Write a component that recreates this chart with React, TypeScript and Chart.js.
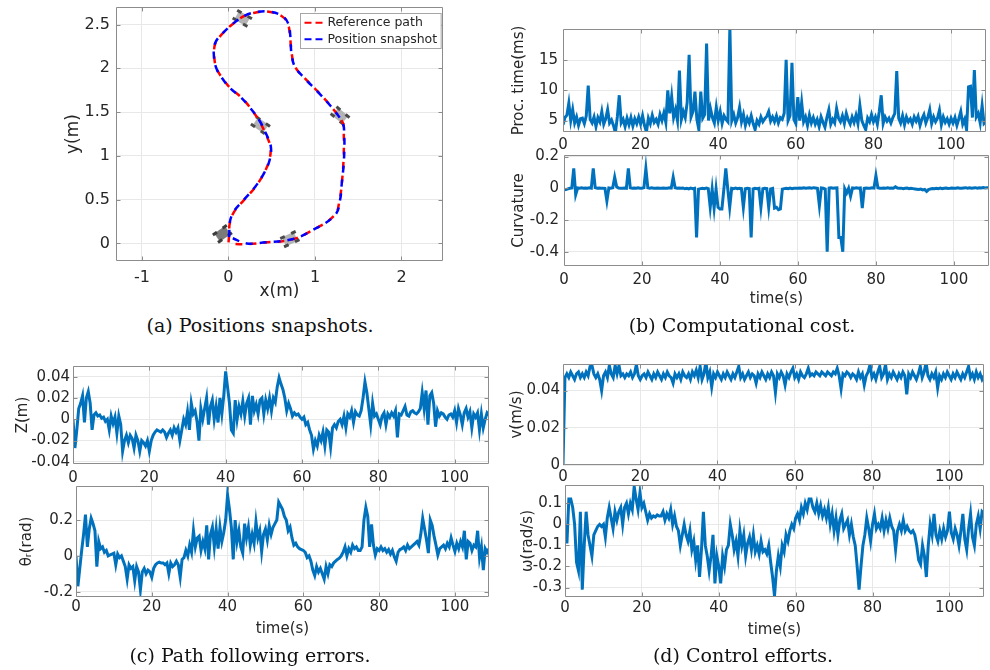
import React, { useEffect, useRef } from "react";
import { Chart, registerables } from "chart.js";

Chart.register(...registerables);

// ---------------- data ----------------
const SAMPLE_STEP_S = 0.5;
const TIME_MIN = 0;
const TIME_MAX = 109;
const TIME_TICKS = [0, 20, 40, 60, 80, 100];

// (a) path in metres
const REF_X = [0, 0.198, 0.427, 0.731, 0.96, 1.227, 1.284, 1.31, 1.33, 1.333, 1.322, 1.189, 1.036, 0.884, 0.77, 0.731, 0.712, 0.686, 0.617, 0.465, 0.331, 0.179, 0.046, -0.069, -0.152, -0.164, -0.137, -0.069, 0.027, 0.141, 0.244, 0.35, 0.427, 0.484, 0.472, 0.408, 0.312, 0.179, 0.065, 0.015, 0.008, 0];
const REF_Y = [0, -0.008, 0.011, 0.046, 0.145, 0.323, 0.495, 0.685, 0.951, 1.256, 1.377, 1.56, 1.731, 1.884, 2.017, 2.169, 2.359, 2.511, 2.595, 2.645, 2.641, 2.595, 2.504, 2.397, 2.283, 2.131, 1.998, 1.884, 1.769, 1.674, 1.56, 1.408, 1.256, 1.103, 0.951, 0.799, 0.647, 0.495, 0.361, 0.228, 0.114, 0];
const POS_X = [0.05, 0.21, 0.43, 0.735, 0.965, 1.232, 1.29, 1.31, 1.335, 1.338, 1.318, 1.186, 1.03, 0.88, 0.768, 0.728, 0.716, 0.69, 0.62, 0.47, 0.335, 0.182, 0.05, -0.066, -0.155, -0.168, -0.14, -0.073, 0.022, 0.137, 0.24, 0.354, 0.432, 0.49, 0.476, 0.41, 0.31, 0.176, 0.061, 0.012, 0.01, 0.0];
const POS_Y = [0.06, 0.0, 0.013, 0.048, 0.148, 0.325, 0.497, 0.687, 0.953, 1.258, 1.38, 1.563, 1.734, 1.886, 2.019, 2.171, 2.361, 2.513, 2.598, 2.648, 2.644, 2.598, 2.507, 2.4, 2.286, 2.134, 2.0, 1.886, 1.771, 1.676, 1.562, 1.41, 1.258, 1.105, 0.953, 0.801, 0.649, 0.497, 0.363, 0.23, 0.116, 0.02];
const ROBOT_X = [-0.07, 0.71, 1.29, 0.37, 0.16];
const ROBOT_Y = [0.11, 0.05, 1.46, 1.35, 2.57];
const ROBOT_HEADING_DEG = [-35, -25, 40, 35, 30];
const POS_X_TICKS = [-1, 0, 1, 2];
const POS_Y_TICKS = [0, 0.5, 1, 1.5, 2, 2.5];

// (b) processing time (ms), every 0.5 s
const PROC_TIME_MS = [
  4.3, 5.5, 5.9, 7.9, 5.0, 6.8, 4.6, 5.6, 4.2, 5.3,
  5.4, 4.5, 5.8, 10.8, 5.2, 4.6, 5.6, 4.0, 5.5, 4.8,
  6.5, 4.4, 5.3, 6.8, 4.6, 5.1, 4.2, 3.0, 5.6, 9.2,
  4.6, 5.2, 4.0, 5.4, 4.3, 5.5, 4.1, 5.3, 4.5, 5.6,
  4.4, 5.8, 4.2, 3.1, 5.4, 4.5, 5.9, 4.7, 5.2, 4.4,
  6.0, 5.0, 6.3, 4.7, 10.0, 6.2, 9.0, 5.5, 6.8, 5.0,
  13.3, 5.2, 6.5, 5.5, 8.0, 15.9, 5.6, 6.5, 9.8, 5.2,
  3.5, 9.8, 5.4, 6.0, 17.8, 5.0, 7.0, 5.5, 4.6, 7.2,
  5.0, 6.5, 4.5, 5.8, 5.2, 4.8, 20.5, 5.0, 6.0, 4.6,
  5.5, 7.2, 4.8, 6.0, 4.2, 5.4, 4.6, 5.8, 4.5, 3.5,
  5.0, 4.4, 5.6, 4.8, 5.3, 5.7, 6.5, 4.9, 5.6, 4.8,
  5.8, 4.6, 5.5, 5.2, 6.2, 15.1, 5.0, 5.8, 14.6, 5.2,
  4.5, 8.9, 5.0, 8.0, 4.8, 5.6, 4.2, 5.9, 4.6, 5.5,
  4.4, 5.2, 4.0, 5.6, 4.7, 3.9, 5.5, 6.8, 4.4, 5.2,
  4.6, 7.0, 5.4, 4.8, 5.8, 4.5, 6.2, 5.1, 4.4, 5.6,
  4.7, 5.9, 4.5, 7.5, 5.0, 4.2, 3.5, 5.4, 4.8, 6.0,
  4.8, 5.6, 4.4, 6.5, 9.2, 4.5, 5.6, 4.9, 5.4, 4.6,
  5.5, 6.2, 13.2, 5.4, 4.6, 5.8, 4.3, 5.6, 4.8, 5.3,
  4.4, 5.6, 4.9, 5.7, 4.2, 5.3, 6.0, 4.6, 5.5, 6.8,
  4.5, 5.6, 4.8, 5.4, 6.7, 4.3, 5.6, 4.7, 5.3, 4.4,
  5.4, 4.6, 5.5, 4.2, 5.3, 6.5, 4.4, 5.2, 3.5, 10.6,
  10.7, 5.5, 13.4, 5.6, 6.2, 4.6, 7.5, 4.5, 4.8,
];
const PROC_TICKS = [5, 10, 15];

const CURVATURE = [
  -0.01, -0.008, -0.004, 0, 0.002, 0.125, -0.04, 0.002, 0, 0.003,
  0, 0.002, 0, 0.003, 0.001, 0.125, 0.004, 0, 0.002, 0,
  0.001, 0, -0.08, 0.002, 0, 0.003, 0.07, 0.01, 0.002, 0,
  0.001, 0.002, 0, 0.125, 0.003, 0, 0.002, 0, 0.003, 0.001,
  0, 0.004, 0.125, 0.003, 0, 0.003, 0.001, 0, 0.002, 0.001,
  0, 0.002, 0.001, 0, 0.003, 0.001, 0.07, 0.003, 0, 0.002,
  0, 0.002, -0.003, 0, -0.004, 0.001, -0.002, 0, -0.31, -0.005,
  -0.002, 0, -0.003, 0.001, -0.002, -0.12, -0.005, -0.125, -0.004, -0.12,
  -0.13, -0.13, -0.005, 0.125, -0.003, -0.12, 0, -0.002, 0.001, -0.003,
  0, -0.002, -0.12, -0.003, 0, -0.002, -0.31, -0.004, 0, -0.002,
  0, -0.12, -0.003, 0, -0.002, -0.12, -0.004, -0.001, -0.125, -0.12,
  -0.135, -0.13, -0.005, -0.002, 0, -0.003, 0.001, -0.002, 0, 0.001,
  0, 0.002, 0, 0.003, 0.001, 0.002, 0.003, 0.001, 0.004, 0.002,
  0, -0.11, 0.002, 0, -0.005, -0.4, 0.001, 0.003, 0, 0.002,
  0.003, -0.31, -0.31, -0.4, -0.003, -0.03, 0, -0.05, 0.002, 0,
  0.003, 0, 0.002, -0.125, 0, 0.002, 0.001, 0, 0.003, 0.001,
  0.08, 0.004, 0.001, 0, 0.002, 0.001, 0.003, 0, 0.002, 0.001,
  0.01, 0.002, 0, 0.001, -0.002, 0, 0.001, -0.003, 0, -0.002,
  -0.004, -0.006, -0.008, -0.005, -0.01, -0.007, -0.02, -0.008, -0.004, -0.002,
  -0.003, 0, -0.002, 0.001, -0.003, 0, 0.002, -0.001, 0, 0.002,
  0.001, 0, 0.003, 0.001, 0, 0.002, 0.004, 0.001, 0.003, 0,
  0.002, 0.004, 0.001, 0.003, 0.002, 0.005, 0.002, 0.004, 0.003,
];
const CURV_TICKS = [-0.4, -0.2, 0, 0.2];

// (c) path following errors
const Z_ERROR_M = [
  0, -0.027, -0.01, 0.01, 0.015, 0.022, -0.003, 0.02, 0.026, 0.015,
  -0.01, 0.004, 0.006, 0.003, 0.004, 0.001, 0.002, -0.002, 0.0, -0.01,
  0.003, -0.004, 0.002, -0.013, 0.003, -0.005, -0.03, -0.02, -0.015, -0.022,
  -0.015, -0.018, -0.027, -0.015, -0.02, -0.03, -0.02, -0.022, -0.025, -0.02,
  -0.03, -0.02, -0.015, -0.012, -0.01, -0.011, -0.012, -0.01, -0.012, -0.017,
  -0.013, -0.01, -0.015, -0.008, -0.012, -0.008, -0.02, -0.01, 0, -0.005,
  0.007, -0.01, 0.015, 0.005, 0.008, -0.002, -0.02, 0.01, 0.0, 0.01,
  0.02, -0.005, 0.012, 0.018, 0.0, 0.012, -0.003, 0.02, 0.005, 0.022,
  0.045, 0.03, 0.015, -0.01, -0.013, 0.018, 0.0, 0.012, 0.005, 0.017,
  0.003, 0.015, 0.02, -0.005, 0.022, 0.008, 0.014, 0.005, 0.018, 0.02,
  0.005, 0.018, 0.01, 0.02, 0.008, 0.02, 0.016, 0.03, 0.039, 0.033,
  0.028, 0.02, 0.008, 0.015, 0.01, 0.003, 0.006, 0.004, 0.005, 0.002,
  0.0, 0.002, -0.005, -0.003, -0.01, -0.015, -0.028, -0.02, -0.025, -0.015,
  -0.02, -0.012, -0.025, -0.01, -0.012, -0.026, -0.008, -0.005, -0.008, -0.002,
  0.0, -0.005, 0.003, -0.008, 0.005, 0.002, 0.008, -0.003, 0.007, 0.004,
  0.003, 0.008, 0.02, 0.035, 0.025, 0.01, -0.005, 0.015, 0.003, 0.005,
  0.0, -0.005, 0.003, 0.006, -0.005, 0.005, 0.002, 0.006, 0.003, 0.008,
  -0.017, 0.005, 0.004, 0.008, 0.012, 0.004, 0.003, 0.007, 0.008, 0.006,
  0.005, 0.007, 0.01, 0.025, 0.01, 0.027, -0.005, 0.022, 0.025, 0.015,
  -0.007, 0.008, 0.003, 0.006, 0.005, 0.002, 0.0, 0.004, 0.005, 0.002,
  0.008, -0.003, 0.01, 0.004, -0.005, 0.006, 0.01, 0.002, 0.007, -0.008,
  0.005, 0.002, 0.006, -0.01, 0.005, -0.008, 0.0, 0.006, 0.004,
];
const Z_TICKS = [-0.04, -0.02, 0, 0.02, 0.04];

const THETA_ERROR_RAD = [
  0, -0.17, -0.07, 0.03, 0.12, 0.23, 0.05, 0.15, 0.21, 0.18,
  0.14, -0.06, 0.08, 0.04, 0.05, 0.02, 0.03, 0.0, 0.005, 0.01,
  0.015, -0.05, 0.01, -0.01, 0.0, -0.03, -0.06, -0.13, -0.05, -0.07,
  -0.06, -0.14, -0.06, -0.09, -0.19, -0.09, -0.07, -0.1, -0.08, -0.09,
  -0.12, -0.07, -0.05, -0.04, -0.035, -0.04, -0.04, -0.05, -0.04, -0.1,
  -0.04, -0.06, -0.05, -0.03, -0.05, -0.12, -0.02, -0.01, 0.03, 0.0,
  0.06, 0.02, 0.14, 0.05, 0.1, 0.11, 0.03, 0.08, 0.04, 0.17,
  -0.02, 0.12, 0.16, 0.05, 0.15, 0.04, 0.16, 0.08, 0.13, 0.2,
  0.34, 0.26, 0.16, -0.02, 0.2, 0.08, 0.14, 0.05, 0.015, 0.18,
  0.1, 0.16, 0.06, 0.12, 0.07, 0.19, 0.1, 0.14, 0.025, 0.12,
  0.15, 0.09, 0.17, 0.12, 0.16, 0.18, 0.2, 0.3, 0.28, 0.26,
  0.22, 0.2, 0.14, 0.16, 0.1, 0.06, 0.07, 0.05, 0.04, 0.035,
  0.03, 0.02, -0.01, 0.0, -0.03, -0.08, -0.11, -0.06, -0.09, -0.07,
  -0.1, -0.13, -0.06, -0.1, -0.05, -0.06, -0.04, -0.03, -0.02, -0.013,
  0.0, 0.02, 0.05, 0.0, 0.04, 0.02, 0.06, 0.04, 0.05, 0.03,
  0.03, 0.05, 0.2, 0.27, 0.22, 0.05, 0.175, 0.06, 0.005, 0.04,
  0.03, 0.05, 0.03, 0.04, 0.02, 0.035, 0.01, 0.03, -0.005, -0.03,
  0.02, 0.035, 0.04, 0.05, 0.03, 0.06, 0.04, 0.05, 0.06, 0.07,
  0.08, 0.06, 0.12, 0.21, 0.15, 0.09, 0.015, 0.2, 0.17, 0.11,
  0.06, 0.005, 0.04, 0.05, 0.06, 0.04, 0.07, 0.05, 0.1, 0.06,
  0.025, 0.07, 0.04, 0.08, 0.05, 0.14, -0.02, 0.08, 0.07, 0.03,
  0.06, 0.05, 0.14, -0.01, 0.05, -0.08, 0.04, 0.02, 0.04,
];
const THETA_TICKS = [-0.2, 0, 0.2];

// (d) control efforts
const V_MPS = [
  0, 0.047, 0.049, 0.047, 0.05, 0.048, 0.046, 0.049, 0.05, 0.047,
  0.049, 0.047, 0.05, 0.048, 0.053, 0.0535, 0.049, 0.047, 0.049, 0.046,
  0.04, 0.048, 0.05, 0.047, 0.0535, 0.049, 0.047, 0.0535, 0.049, 0.0535,
  0.048, 0.049, 0.047, 0.049, 0.048, 0.05, 0.047, 0.049, 0.054, 0.048,
  0.046, 0.048, 0.049, 0.047, 0.05, 0.048, 0.046, 0.049, 0.047, 0.05,
  0.048, 0.046, 0.049, 0.047, 0.05, 0.048, 0.047, 0.044, 0.049, 0.047,
  0.049, 0.046, 0.05, 0.048, 0.047, 0.049, 0.046, 0.05, 0.048, 0.051,
  0.047, 0.053, 0.046, 0.049, 0.0555, 0.047, 0.05, 0.042, 0.049, 0.047,
  0.05, 0.048, 0.046, 0.049, 0.047, 0.05, 0.048, 0.046, 0.049, 0.047,
  0.05, 0.053, 0.047, 0.049, 0.046, 0.048, 0.05, 0.047, 0.049, 0.048,
  0.044, 0.049, 0.047, 0.05, 0.048, 0.046, 0.049, 0.047, 0.05, 0.048,
  0.039, 0.049, 0.047, 0.05, 0.048, 0.043, 0.049, 0.047, 0.05, 0.052,
  0.047, 0.049, 0.046, 0.05, 0.048, 0.047, 0.049, 0.052, 0.048, 0.049,
  0.048, 0.05, 0.049, 0.048, 0.05, 0.049, 0.048, 0.05, 0.049, 0.048,
  0.05, 0.049, 0.052, 0.048, 0.041, 0.049, 0.048, 0.05, 0.049, 0.047,
  0.049, 0.048, 0.046, 0.05, 0.047, 0.049, 0.043, 0.048, 0.05, 0.054,
  0.047, 0.049, 0.046, 0.05, 0.053, 0.047, 0.049, 0.054, 0.046, 0.049,
  0.047, 0.05, 0.048, 0.046, 0.049, 0.047, 0.05, 0.048, 0.038, 0.049,
  0.047, 0.05, 0.048, 0.046, 0.049, 0.053, 0.047, 0.05, 0.055, 0.048,
  0.046, 0.049, 0.047, 0.05, 0.0415, 0.048, 0.046, 0.049, 0.047, 0.05,
  0.048, 0.046, 0.049, 0.047, 0.05, 0.048, 0.046, 0.049, 0.047, 0.05,
  0.053, 0.047, 0.049, 0.046, 0.05, 0.047, 0.049, 0.046, 0.048,
];
const V_TICKS = [0, 0.02, 0.04];

const OMEGA_RADPS = [
  0, -0.09, 0.12, 0.12, 0.08, 0.0, -0.18, -0.22, 0.06, -0.31,
  -0.1, 0.06, -0.05, -0.1, -0.15, -0.05, -0.03, -0.01, 0.0, -0.01,
  0.0, -0.06, 0.03, 0.08, 0.03, -0.02, 0.06, 0.02, 0.06, 0.08,
  0.0, 0.08, 0.1, 0.05, 0.1, 0.07, 0.18, 0.12, 0.07, 0.15,
  0.08, 0.1, 0.06, 0.02, 0.05, 0.03, 0.04, 0.035, 0.045, 0.04,
  0.04, 0.06, 0.02, 0.05, 0.03, 0.07, 0.0, 0.04, -0.01, -0.03,
  -0.1, -0.05, 0.0, -0.05, -0.08, -0.03, -0.12, -0.08, -0.17, -0.1,
  -0.25, -0.12, 0.06, -0.1, -0.15, -0.22, -0.15, -0.05, -0.28, -0.15,
  -0.2, -0.28, -0.15, -0.2, -0.12, -0.1, 0.0, -0.05, -0.12, -0.08,
  -0.15, -0.03, -0.1, -0.05, -0.15, -0.09, -0.06, -0.12, -0.05, -0.13,
  -0.1, -0.14, -0.08, -0.13, -0.12, -0.14, -0.1, -0.18, -0.25, -0.34,
  -0.22, -0.15, -0.2, -0.1, -0.13, -0.05, -0.08, -0.03, 0.0, -0.02,
  0.03, 0.05, 0.02, 0.08, 0.05, 0.1, 0.07, 0.12, 0.12, 0.08,
  0.06, 0.1, 0.05, 0.09, 0.04, 0.07, 0.03, 0.08, 0.0, 0.05,
  -0.03, 0.03, -0.05, 0.02, 0.05, -0.02, 0.0, 0.02, -0.05, 0.0,
  -0.06, -0.1, -0.2, -0.31, -0.2, -0.1, -0.05, 0.03, -0.02, -0.08,
  0.0, 0.05, -0.02, 0.0, -0.02, 0.03, -0.03, 0.02, -0.02, 0.03,
  -0.01, -0.03, -0.12, -0.03, 0.0, -0.03, 0.02, -0.03, -0.01, -0.03,
  -0.04, -0.03, -0.05, -0.1, -0.17, -0.19, -0.1, -0.15, -0.25, -0.1,
  0.0, -0.05, 0.05, -0.05, -0.08, -0.03, -0.07, -0.02, -0.06, -0.03,
  0.06, -0.04, -0.07, -0.02, -0.05, -0.1, -0.03, 0.05, -0.07, -0.12,
  -0.02, 0.05, -0.06, -0.1, 0.0, 0.04, -0.02, 0.06, 0.05,
];
const OMEGA_TICKS = [-0.3, -0.2, -0.1, 0, 0.1];

const CAPTIONS = [
  { text: "(a) Positions snapshots.", cx: 260, baseline: 332 },
  { text: "(b) Computational cost.", cx: 742, baseline: 332 },
  { text: "(c) Path following errors.", cx: 250, baseline: 662 },
  { text: "(d) Control efforts.", cx: 743, baseline: 662 },
];

// ---------------- styling ----------------
const SANS = "'DejaVu Sans', sans-serif";
const SERIF = "'DejaVu Serif', serif";
const TEXT = "#262626";
const GRID = "#e8e8e8";
const BOX = "#8c8c8c";
const BLUE = "#0072BD";
const SERIES_WIDTH = 3;

const toSeries = (values: number[]) => values.map((y, i) => ({ x: i * SAMPLE_STEP_S, y }));

const boxPlugin = {
  id: "matlabBox",
  afterDraw(chart: any) {
    const { ctx, chartArea: a, scales } = chart;
    const l = Math.round(a.left) + 0.5, r = Math.round(a.right) - 0.5;
    const t = Math.round(a.top) + 0.5, b = Math.round(a.bottom) - 0.5;
    const tl = 4;
    ctx.save();
    ctx.strokeStyle = BOX;
    ctx.lineWidth = 1;
    ctx.setLineDash([]);
    ctx.beginPath();
    ctx.rect(l, t, r - l, b - t);
    const xs = scales.x, ys = scales.y;
    xs.ticks.forEach((tk: any) => {
      const p = Math.round(xs.getPixelForValue(tk.value)) + 0.5;
      if (p <= l + 1 || p >= r - 1) return;
      ctx.moveTo(p, b); ctx.lineTo(p, b - tl);
      ctx.moveTo(p, t); ctx.lineTo(p, t + tl);
    });
    ys.ticks.forEach((tk: any) => {
      const p = Math.round(ys.getPixelForValue(tk.value)) + 0.5;
      if (p <= t + 1 || p >= b - 1) return;
      ctx.moveTo(l, p); ctx.lineTo(l + tl, p);
      ctx.moveTo(r, p); ctx.lineTo(r - tl, p);
    });
    ctx.stroke();
    ctx.restore();
  },
};

const legendPlugin = {
  id: "matlabLegend",
  afterDraw(chart: any, _args: any, opts: any) {
    if (!opts || !opts.items) return;
    const { ctx, chartArea: a } = chart;
    const items = opts.items.map((i: number) => chart.data.datasets[i]);
    const fs = opts.fontSize;
    ctx.save();
    ctx.font = `${fs}px ${SANS}`;
    const textW = Math.max(...items.map((d: any) => ctx.measureText(d.label).width));
    const padX = 4, lineLen = 21, gap = 2, rowH = 16.5;
    const w = padX + lineLen + gap + textW + padX;
    const h = rowH * items.length + 2;
    const x0 = Math.round(a.right - 2 - w) + 0.5;
    const y0 = Math.round(a.top + 6) + 0.5;
    ctx.fillStyle = "#ffffff";
    ctx.fillRect(x0, y0, w, h);
    ctx.strokeStyle = "#a6a6a6";
    ctx.lineWidth = 1;
    ctx.strokeRect(x0, y0, w, h);
    items.forEach((d: any, i: number) => {
      const cy = y0 + 1 + rowH * (i + 0.5);
      ctx.strokeStyle = d.borderColor;
      ctx.lineWidth = 2;
      ctx.setLineDash([7, 4]);
      ctx.beginPath();
      ctx.moveTo(x0 + padX, cy);
      ctx.lineTo(x0 + padX + lineLen, cy);
      ctx.stroke();
      ctx.setLineDash([]);
      ctx.fillStyle = TEXT;
      ctx.textBaseline = "middle";
      ctx.textAlign = "left";
      ctx.fillText(d.label, x0 + padX + lineLen + gap, cy);
    });
    ctx.restore();
  },
};

type AxisOpt = {
  min: number; max: number; ticks: number[]; size: number; pad: number;
  fontSize: number; title?: string; titleSize: number;
};

function makeAxis(kind: "x" | "y", o: AxisOpt) {
  return {
    type: "linear",
    position: kind === "x" ? "bottom" : "left",
    min: o.min,
    max: o.max,
    bounds: "data",
    afterBuildTicks: (s: any) => { s.ticks = o.ticks.map((value) => ({ value })); },
    afterFit: (s: any) => {
      if (kind === "x") s.height = o.size; else s.width = o.size;
      s.paddingLeft = 0; s.paddingRight = 0; s.paddingTop = 0; s.paddingBottom = 0;
    },
    grid: { color: GRID, lineWidth: 1, drawTicks: false },
    border: { display: false },
    ticks: {
      autoSkip: false, maxRotation: 0, minRotation: 0, padding: o.pad, color: TEXT,
      font: { family: SANS, size: o.fontSize, lineHeight: 1.2 },
      callback: (v: number) => String(v),
    },
    title: o.title
      ? { display: true, text: o.title, color: TEXT, padding: 0, font: { family: SANS, size: o.titleSize, lineHeight: 1.2 } }
      : { display: false },
  };
}

type Panel = {
  id: string; left: number; top: number; width: number; height: number;
  config: () => any;
};

function baseOptions(padTop: number, padRight: number, x: any, y: any, extraPlugins: any = {}) {
  return {
    responsive: false,
    maintainAspectRatio: false,
    animation: false,
    devicePixelRatio: 1,
    events: [],
    layout: { padding: { top: padTop, right: padRight, left: 0, bottom: 0 } },
    plugins: { legend: { display: false }, tooltip: { enabled: false }, ...extraPlugins },
    scales: { x, y },
  };
}

type TS = {
  values: number[]; yMin: number; yMax: number; yTicks: number[]; yTitle: string;
  xTitle?: string; xPad: number; yPad: number; yWidth: number; xHeight: number;
  padTop: number; padRight: number;
};

function timeSeriesConfig(o: TS) {
  return {
    type: "scatter",
    data: {
      datasets: [{
        label: o.yTitle,
        data: toSeries(o.values),
        showLine: true,
        borderColor: BLUE,
        backgroundColor: BLUE,
        borderWidth: SERIES_WIDTH,
        pointRadius: 0,
        tension: 0,
        clip: 0,
      }],
    },
    options: baseOptions(
      o.padTop, o.padRight,
      makeAxis("x", { min: TIME_MIN, max: TIME_MAX, ticks: TIME_TICKS, size: o.xHeight, pad: o.xPad, fontSize: 15, title: o.xTitle, titleSize: 15 }),
      makeAxis("y", { min: o.yMin, max: o.yMax, ticks: o.yTicks, size: o.yWidth, pad: o.yPad, fontSize: 15, title: o.yTitle, titleSize: 15 }),
    ),
    plugins: [boxPlugin],
  };
}

function makeRobotImage(body: string, wheel: string) {
  const c = document.createElement("canvas");
  c.width = 17; c.height = 12;
  const g = c.getContext("2d")!;
  g.fillStyle = body;
  g.fillRect(2, 1, 13, 10);
  g.fillStyle = wheel;
  g.fillRect(0, 0, 5, 3);
  g.fillRect(12, 0, 5, 3);
  g.fillRect(0, 9, 5, 3);
  g.fillRect(12, 9, 5, 3);
  return c;
}

function positionsConfig() {
  const dark = makeRobotImage("#7a7a7a", "#3c3c3c");
  const light = makeRobotImage("#b4b4b4", "#4a4a4a");
  return {
    type: "scatter",
    data: {
      datasets: [
        {
          label: "Position snapshot",
          data: POS_X.map((x, i) => ({ x, y: POS_Y[i] })),
          showLine: true, borderColor: "#0000ff", backgroundColor: "transparent",
          borderWidth: 2.5, borderDash: [7, 7], pointRadius: 0, tension: 0.4,
        },
        {
          label: "Reference path",
          data: REF_X.map((x, i) => ({ x, y: REF_Y[i] })),
          showLine: true, borderColor: "#ff0000", backgroundColor: "transparent",
          borderWidth: 2.5, borderDash: [7, 7], borderDashOffset: 7, pointRadius: 0, tension: 0.4,
        },
        {
          label: "Robot",
          data: ROBOT_X.map((x, i) => ({ x, y: ROBOT_Y[i] })),
          showLine: false,
          pointStyle: ROBOT_X.map((_, i) => (i === 0 ? dark : light)),
          pointRotation: ROBOT_HEADING_DEG,
          pointRadius: 6,
        },
      ],
    },
    options: baseOptions(
      7, 3,
      makeAxis("x", { min: -1.3, max: 2.48, ticks: POS_X_TICKS, size: 41, pad: 7, fontSize: 16, title: "x(m)", titleSize: 17 }),
      makeAxis("y", { min: -0.2, max: 2.7, ticks: POS_Y_TICKS, size: 53, pad: 6, fontSize: 16, title: "y(m)", titleSize: 17 }),
      { matlabLegend: { items: [1, 0], fontSize: 12.5 } },
    ),
    plugins: [boxPlugin, legendPlugin],
  };
}

const PANELS: Panel[] = [
  { id: "a", left: 63, top: 0, width: 387, height: 302, config: positionsConfig },
  {
    id: "b1", left: 510, top: 19, width: 480, height: 135,
    config: () => timeSeriesConfig({ values: PROC_TIME_MS, yMin: 3.1, yMax: 20.2, yTicks: PROC_TICKS, yTitle: "Proc. time(ms)", xPad: 4, yPad: 5, yWidth: 53, xHeight: 22, padTop: 10, padRight: 4 }),
  },
  {
    id: "b2", left: 510, top: 143, width: 480, height: 165,
    config: () => timeSeriesConfig({ values: CURVATURE, yMin: -0.49, yMax: 0.21, yTicks: CURV_TICKS, yTitle: "Curvature", xTitle: "time(s)", xPad: 5, yPad: 5, yWidth: 54, xHeight: 42, padTop: 12, padRight: 1 }),
  },
  {
    id: "c1", left: 14, top: 356, width: 479, height: 130,
    config: () => timeSeriesConfig({ values: Z_ERROR_M, yMin: -0.042, yMax: 0.05, yTicks: Z_TICKS, yTitle: "Z(m)", xPad: 5, yPad: 3, yWidth: 59, xHeight: 22, padTop: 10, padRight: 4 }),
  },
  {
    id: "c2", left: 18, top: 476, width: 475, height: 162,
    config: () => timeSeriesConfig({ values: THETA_ERROR_RAD, yMin: -0.23, yMax: 0.39, yTicks: THETA_TICKS, yTitle: "θᵣ(rad)", xTitle: "time(s)", xPad: 1, yPad: 3, yWidth: 58, xHeight: 41, padTop: 10, padRight: 4 }),
  },
  {
    id: "d1", left: 508, top: 354, width: 480, height: 133,
    config: () => timeSeriesConfig({ values: V_MPS, yMin: 0, yMax: 0.0543, yTicks: V_TICKS, yTitle: "v(m/s)", xPad: 3, yPad: 3, yWidth: 55, xHeight: 22, padTop: 10, padRight: 4 }),
  },
  {
    id: "d2", left: 519, top: 475, width: 469, height: 164,
    config: () => timeSeriesConfig({ values: OMEGA_RADPS, yMin: -0.345, yMax: 0.187, yTicks: OMEGA_TICKS, yTitle: "ω(rad/s)", xTitle: "time(s)", xPad: 2, yPad: 3, yWidth: 46, xHeight: 42, padTop: 10, padRight: 4 }),
  },
];

function ChartPanel({ panel }: { panel: Panel }) {
  const ref = useRef<HTMLCanvasElement>(null);
  useEffect(() => {
    if (!ref.current) return;
    const chart = new Chart(ref.current, panel.config());
    return () => chart.destroy();
  }, [panel]);
  return (
    <canvas
      ref={ref}
      width={panel.width}
      height={panel.height}
      style={{ position: "absolute", left: panel.left, top: panel.top, width: panel.width, height: panel.height }}
    />
  );
}

const CAPTION_SIZE = 19;

export default function App() {
  return (
    <div style={{ position: "fixed", left: 0, top: 0, width: 990, height: 670, background: "#ffffff", overflow: "hidden" }}>
      {PANELS.map((p) => <ChartPanel key={p.id} panel={p} />)}
      {CAPTIONS.map((c) => (
        <div
          key={c.text}
          style={{
            position: "absolute", left: c.cx - 200, width: 400, textAlign: "center",
            top: c.baseline - 0.846 * CAPTION_SIZE, fontFamily: SERIF, fontSize: CAPTION_SIZE,
            lineHeight: `${CAPTION_SIZE}px`, color: "#111", whiteSpace: "nowrap",
          }}
        >
          {c.text}
        </div>
      ))}
    </div>
  );
}
